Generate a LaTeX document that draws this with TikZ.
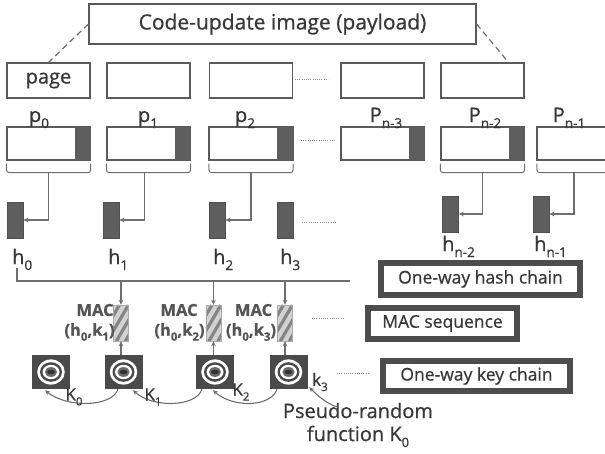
\documentclass[tikz,border=0pt]{standalone}
\usepackage{fontspec}
\setmainfont{Open Sans}[RawFeature={embolden=0.7}]
\usetikzlibrary{arrows.meta}

\definecolor{inkc}{HTML}{383838}
\definecolor{boxc}{HTML}{5A5A5A}
\definecolor{segc}{HTML}{5E5E5E}
\definecolor{linec}{HTML}{6E6E6E}
\definecolor{keyc}{HTML}{4A4A4A}
\definecolor{keyin}{HTML}{6A6A6A}
\definecolor{framec}{HTML}{4D4D4D}
\definecolor{hatchbg}{HTML}{D2D2D2}
\definecolor{hatchc}{HTML}{858585}
\definecolor{maclc}{HTML}{555555}

% lowered subscript in text fonts
\newcommand\lsub[2][13.5]{\raisebox{-0.3em}{\fontsize{#1}{#1}\selectfont #2}}

% diagonal stripes inside a MAC block
\newcommand\machatch[1]{%
  \begin{scope}
    \clip (#1.south west) rectangle (#1.north east);
    \foreach \d in {-24,-15,...,12}
      \draw[hatchline] ([xshift=\d pt]#1.south west) -- ++(21,-36);
  \end{scope}
  \draw[draw=hatchc!70, line width=0.6pt] (#1.south west) rectangle (#1.north east);
}

% concentric rings of a key block
\newcommand\keyrings[1]{%
  \fill[white] (#1.center) ellipse [x radius=13.8pt, y radius=12.6pt];
  \fill[keyc]  (#1.center) ellipse [x radius=11pt, y radius=9.8pt];
  \fill[white] (#1.center) ellipse [x radius=8.5pt, y radius=7.2pt];
  \fill[keyin] (#1.center) ellipse [x radius=6.1pt, y radius=4.9pt];
  \fill[keyc!70!black] (#1.center) ellipse [x radius=4pt, y radius=2.3pt];
}

\begin{document}
\begin{tikzpicture}[x=1pt,y=-1pt,
  pbox/.style={draw=boxc, line width=1.1pt, fill=white, minimum width=83pt,
    minimum height=35pt, inner sep=0pt, text=inkc},
  hbox/.style={fill=segc, draw=segc!85!black, line width=0.6pt, minimum width=16pt,
    minimum height=36pt, inner sep=0pt},
  macbox/.style={fill=hatchbg, minimum width=15pt, minimum height=36pt, inner sep=0pt},
  keybox/.style={fill=keyc, minimum width=38pt, minimum height=34pt, inner sep=0pt},
  legend/.style={draw=framec, line width=6pt, fill=white, inner sep=0pt, text=inkc,
    font=\fontsize{17.5}{20}\selectfont},
  conn/.style={draw=linec, line width=1.1pt},
  arr/.style={-{Stealth[length=5pt,width=4.5pt]}},
  brk/.style={draw=linec, line width=1pt, rounded corners=2.5pt},
  dashline/.style={draw=linec, line width=1.2pt, dash pattern=on 6pt off 4pt},
  dotline/.style={draw=linec!80, line width=0.9pt, dash pattern=on 0.9pt off 1.3pt},
  hatchline/.style={draw=hatchc, line width=3.2pt},
  lbl/.style={text=inkc, inner sep=0pt, font=\fontsize{20}{22}\selectfont},
  maclbl/.style={text=maclc, inner sep=0pt, font=\bfseries\fontsize{16.5}{18}\selectfont},
  klbl/.style={text=inkc, inner sep=0pt, font=\fontsize{17}{19}\selectfont},
]
\fill[white] (0,0) rectangle (605,453);
\useasboundingbox (0,0) rectangle (605,453);

% payload and its pages
\node[pbox, minimum width=387pt, minimum height=40pt,
  font=\fontsize{21}{24}\selectfont] (title) at (282.5,24) {Code-update image (payload)};

\node[pbox, font=\fontsize{20}{22}\selectfont] (r1a) at (48.5,80.5) {page};
\node[pbox] (r1b) at (148.5,80.5) {};
\node[pbox] (r1c) at (251,80.5) {};
\node[pbox] (r1d) at (382.5,80.5) {};
\node[pbox] (r1e) at (482.5,80.5) {};

\draw[dashline] (title.west) -- (r1a.north);
\draw[dashline] (title.east) -- ([xshift=-16pt]r1e.north east);

\coordinate (d1a) at (295,79); \coordinate (d1b) at (328,79);
\draw[dotline] (d1a) -- (d1b);

% packets with their hash fields
\foreach \n/\x in {r2a/48.5, r2b/148.5, r2c/251, r2d/382.5, r2e/482.5, r2f/579}
  \node[pbox, minimum height=33pt] (\n) at (\x,143.5) {};
\foreach \n in {r2a, r2b, r2c, r2d, r2e, r2f} {
  \fill[segc] ([xshift=-16pt]\n.north east) rectangle (\n.south east);
  \draw[boxc, line width=1.1pt] (\n.north west) rectangle (\n.south east);
}

\coordinate (d2a) at (301,140); \coordinate (d2b) at (335,140);
\draw[dotline] (d2a) -- (d2b);

\node[lbl, anchor=base] (p0) at (39,122) {p\lsub{0}};
\node[lbl, anchor=base] (p1) at (148,122) {p\lsub{1}};
\node[lbl, anchor=base] (p2) at (245,122) {p\lsub{2}};
\node[lbl, anchor=base] (p3) at (386,122) {P\lsub{n-3}};
\node[lbl, anchor=base] (p4) at (485,122) {P\lsub{n-2}};
\node[lbl, anchor=base] (p5) at (569,122) {P\lsub{n-1}};

% brackets under the packets
\foreach \n in {r2a, r2b, r2c, r2e, r2f}
  \draw[brk] ([yshift=-3pt]\n.south west) |- ([yshift=-12pt]\n.south east)
    -- ([yshift=-3pt]\n.south east);
\coordinate (s0) at ([yshift=-12pt]r2a.south);
\coordinate (s1) at ([xshift=-4pt,yshift=-12pt]r2b.south);
\coordinate (s2) at ([yshift=-12pt]r2c.south);
\coordinate (s4) at ([yshift=-12pt]r2e.south);
\coordinate (s5) at ([xshift=-5pt,yshift=-12pt]r2f.south);

% hash values
\node[hbox] (h0) at (15,220) {};
\node[hbox] (h1) at (111,220) {};
\node[hbox] (h2) at (217,220) {};
\node[hbox] (h3) at (285.5,220) {};
\node[hbox] (h4) at (450.5,214) {};
\node[hbox] (h5) at (541,214) {};

\draw[conn, arr] (s0) |- (h0.east);
\draw[conn, arr] (s1) |- (h1.east);
\draw[conn, arr] (s2) |- (h2.east);
\draw[conn, arr] (s4) |- (h4.east);
\draw[conn, arr] (s5) |- (h5.east);

\node[lbl, anchor=base west] (lh0) at (12,264) {h\lsub{0}};
\node[lbl, anchor=base west] (lh1) at (108,264) {h\lsub{1}};
\node[lbl, anchor=base west] (lh2) at (213,264) {h\lsub{2}};
\node[lbl, anchor=base west] (lh3) at (280,264) {h\lsub{3}};
\node[lbl, anchor=base west] (lh4) at (442,251) {h\lsub{n-2}};
\node[lbl, anchor=base west] (lh5) at (534,251) {h\lsub{n-1}};

\coordinate (d3a) at (302,222); \coordinate (d3b) at (336,222);
\draw[dotline] (d3a) -- (d3b);

% hash chain bus
\coordinate (hs) at (17,268);
\coordinate (he) at (350,281);
\draw[conn] (hs) |- (he);

% MAC blocks
\node[macbox] (m1) at (121,323) {};
\node[macbox] (m2) at (213.5,323) {};
\node[macbox] (m3) at (285,323) {};
\machatch{m1} \machatch{m2} \machatch{m3}

\foreach \m in {m1, m2, m3}
  \draw[conn, arr] (\m.north |- he) -- (\m.north);

\node[maclbl, anchor=east] (ma1) at ([xshift=0.5pt,yshift=13pt]m1.west) {MAC};
\node[maclbl, anchor=east] (mb1) at ([xshift=1.5pt,yshift=-9pt]m1.west) {(h\lsub[11.5]{0},k\lsub[11.5]{1})};
\node[maclbl, anchor=east] (ma2) at ([xshift=-8pt,yshift=13pt]m2.west) {MAC};
\node[maclbl, anchor=east] (mb2) at ([xshift=-1pt,yshift=-9pt]m2.west) {(h\lsub[11.5]{0},k\lsub[11.5]{2})};
\node[maclbl, anchor=east] (ma3) at ([xshift=-5pt,yshift=13pt]m3.west) {MAC};
\node[maclbl, anchor=east] (mb3) at ([xshift=-1pt,yshift=-9pt]m3.west) {(h\lsub[11.5]{0},k\lsub[11.5]{3})};

\coordinate (d4a) at (312,318); \coordinate (d4b) at (345,318);
\draw[dotline] (d4a) -- (d4b);

% key chain
\node[keybox] (k1) at (51,372) {};
\node[keybox] (k2) at (123.5,372) {};
\node[keybox] (k3) at (215,372) {};
\node[keybox] (k4) at (288.5,372) {};
\keyrings{k1} \keyrings{k2} \keyrings{k3} \keyrings{k4}

\draw[conn, arr] (k2.north -| m1.south) -- (m1.south);
\draw[conn, arr] (k3.north -| m2.south) -- (m2.south);
\draw[conn, arr] (k4.north -| m3.south) -- (m3.south);

\draw[conn, arr] ([xshift=-5.5pt]k2.south) .. controls +(-6,18) and +(22,18) .. ([xshift=-6pt,yshift=-1pt]k1.south);
\draw[conn, arr] ([xshift=-13pt]k3.south) .. controls +(-6,18) and +(20,18) .. ([xshift=9.5pt,yshift=-1pt]k2.south);
\draw[conn, arr] ([xshift=-11.5pt]k4.south) .. controls +(-6,18) and +(20,18) .. ([xshift=-2pt,yshift=-1pt]k3.south);

\node[klbl] (kl0) at (74,397) {K\lsub[11.5]{0}};
\node[klbl] (kl1) at (153,397) {K\lsub[11.5]{1}};
\node[klbl] (kl2) at (241,392) {K\lsub[11.5]{2}};
\node[klbl] (kl3) at (320,382) {k\lsub[11.5]{3}};

\node[lbl, align=center, font=\fontsize{20}{23}\selectfont] (prf) at (358,425)
  {Pseudo-random\\function K\lsub[13]{0}};
\coordinate (prt) at (338,407);
\draw[conn, arr] (prt) .. controls +(-10,-2) and +(8,8) .. ([xshift=1.5pt,yshift=2pt]k4.south east);

\coordinate (d5a) at (337,373); \coordinate (d5b) at (370,373);
\draw[dotline] (d5a) -- (d5b);

% legend
\node[legend, minimum width=199pt, minimum height=32pt] (lg1) at (480.5,279) {One-way hash chain};
\node[legend, minimum width=149pt, minimum height=31pt] (lg2) at (442.5,323.5) {MAC sequence};
\node[legend, minimum width=187pt, minimum height=30pt] (lg3) at (476.5,376) {One-way key chain};
\end{tikzpicture}
\end{document}
